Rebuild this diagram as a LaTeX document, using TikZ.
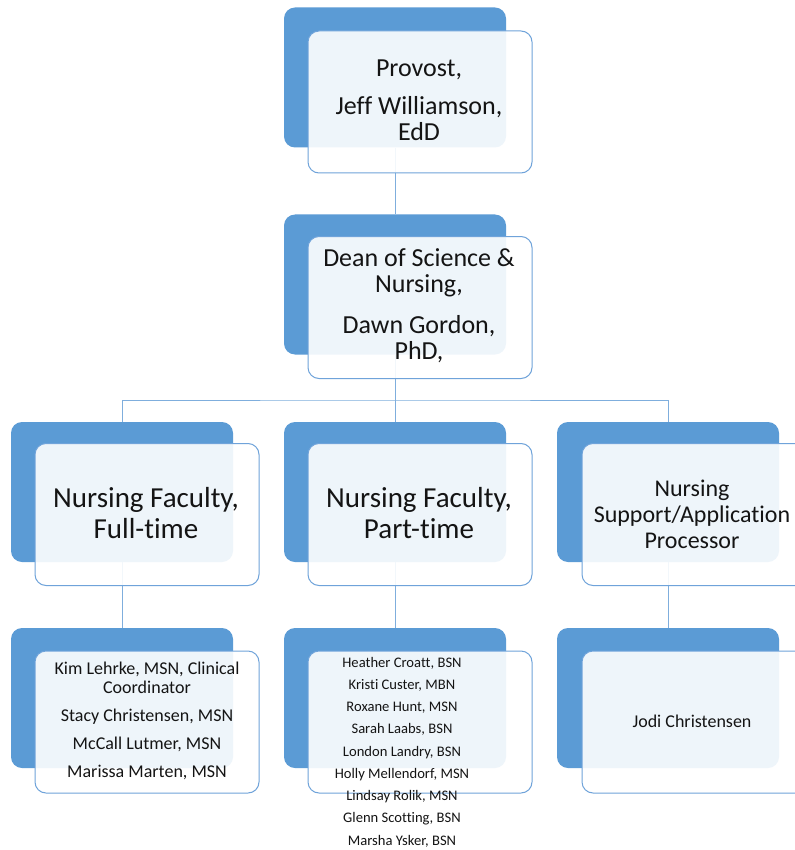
\documentclass[tikz,border=0pt]{standalone}
\usepackage{fontspec}
\setmainfont[Ligatures=NoCommon]{Carlito}
\definecolor{blu}{HTML}{5B9BD5}
\definecolor{edgec}{HTML}{6FA3DA}
\definecolor{linkc}{HTML}{7FAEDD}
\begin{document}
\begin{tikzpicture}[x=1pt,y=-1pt,
  back/.style={draw=none, fill=blu, rounded corners=11pt, minimum width=222pt, minimum height=140pt, inner sep=0pt},
  front/.style={draw=edgec, line width=1pt, fill=white, fill opacity=0.9, text opacity=1, rounded corners=11pt, minimum width=224pt, minimum height=142pt, inner sep=0pt},
  label/.style={align=center, inner sep=0pt, text=black!92},
  link/.style={draw=linkc, line width=1pt}]
\useasboundingbox (0,0) rectangle (794,850);
\fill[white] (0,0) rectangle (794,850);

% back blue boxes
\node[back] (provB) at (395,77.5) {};
\node[back] (deanB) at (395,284.5) {};
\node[back] (ftB) at (122,492) {};
\node[back] (ptB) at (395,492) {};
\node[back] (spB) at (668,492) {};
\node[back] (ftlB) at (122,698) {};
\node[back] (ptlB) at (395,698) {};
\node[back] (splB) at (668,698) {};

% connectors
\coordinate (bus) at (395,400);
\draw[link] (provB.south) -- (deanB.north);
\draw[link] (deanB.south) -- (bus);
\draw[link] (bus) -- (ptB.north);
\draw[link] (ftB.north) |- (bus) -| (spB.north);
\draw[link] (ftB.south) -- (ftlB.north);
\draw[link] (ptB.south) -- (ptlB.north);
\draw[link] (spB.south) -- (splB.north);

% front boxes
\node[front] (provW) at (420,102) {};
\node[front] (deanW) at (420,307.5) {};
\node[front] (ftW) at (147,514.5) {};
\node[front] (ptW) at (420,514.5) {};
\node[front] (spW) at (694,514.5) {};
\node[front] (ftlW) at (147,722) {};
\node[front] (ptlW) at (420,722) {};
\node[front] (splW) at (694,722) {};

% texts
\node[label, font=\fontsize{26}{26}\selectfont] (provT) at (419,100) {Provost,\\[12pt]Jeff Williamson,\\EdD};
\node[label, font=\fontsize{26}{26}\selectfont] (deanT) at (419,306) {Dean of Science \&\\Nursing,\\[15pt]Dawn Gordon,\\PhD,};
\node[label, font=\fontsize{29}{31}\selectfont] (ftT) at (146,513) {Nursing Faculty,\\Full-time};
\node[label, font=\fontsize{29}{31}\selectfont] (ptT) at (419,513) {Nursing Faculty,\\Part-time};
\node[label, font=\fontsize{24}{26}\selectfont] (spT) at (692,514) {Nursing\\Support/Application\\Processor};
\node[label, font=\fontsize{18}{19}\selectfont] (ftlT) at (147,721) {Kim Lehrke, MSN, Clinical\\Coordinator\\[9pt]Stacy Christensen, MSN\\[9pt]McCall Lutmer, MSN\\[9pt]Marissa Marten, MSN};
\node[label, font=\fontsize{14.6}{22.25}\selectfont] (ptlT) at (402,752) {Heather Croatt, BSN\\Kristi Custer, MBN\\Roxane Hunt, MSN\\Sarah Laabs, BSN\\London Landry, BSN\\Holly Mellendorf, MSN\\Lindsay Rolik, MSN\\Glenn Scotting, BSN\\Marsha Ysker, BSN};
\node[label, font=\fontsize{18}{19}\selectfont] (splT) at (692,721) {Jodi Christensen};
\end{tikzpicture}
\end{document}
